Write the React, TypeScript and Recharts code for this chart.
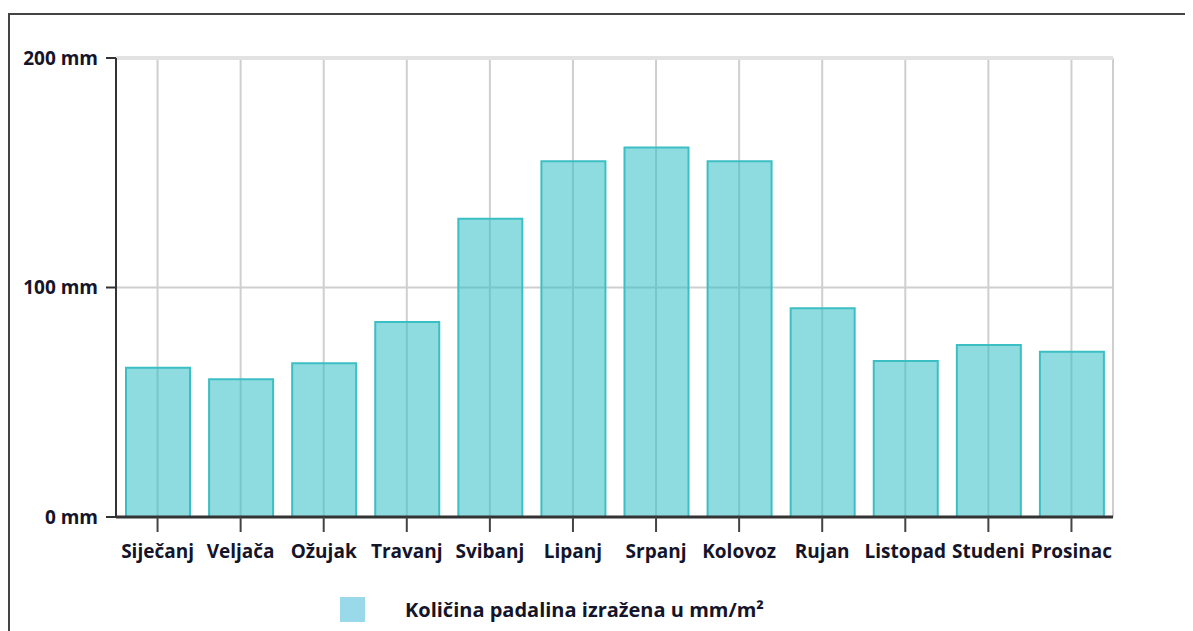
import React from 'react'
import {
  BarChart,
  Bar,
  XAxis,
  YAxis,
  CartesianGrid,
  Legend,
  ReferenceLine,
} from 'recharts'

const months = [
  'Siječanj',
  'Veljača',
  'Ožujak',
  'Travanj',
  'Svibanj',
  'Lipanj',
  'Srpanj',
  'Kolovoz',
  'Rujan',
  'Listopad',
  'Studeni',
  'Prosinac',
]
const rainfall = [65, 60, 67, 85, 130, 155, 161, 155, 91, 68, 75, 72]
const yTicks = [0, 100, 200]
const seriesName = 'Količina padalina izražena u mm/m²'

const data = months.map((m, i) => ({ month: m, rain: rainfall[i] }))

const FONT = '"Open Sans", "Noto Sans", sans-serif'
const TEXT = '#14142a'

function LegendContent() {
  return (
    <div
      style={{
        height: 40,
        display: 'flex',
        alignItems: 'center',
        fontFamily: FONT,
        fontWeight: 700,
        fontSize: 20,
        color: TEXT,
      }}
    >
      <div style={{ width: 330 }} />
      <div style={{ width: 25, height: 25, background: '#99d9ea' }} />
      <div style={{ width: 40 }} />
      <span>{seriesName}</span>
    </div>
  )
}

export default function App() {
  return (
    <div
      style={{
        marginTop: 5,
        width: 1183,
        height: 618,
        borderTop: '2px solid #444',
        borderLeft: '2px solid #444',
        background: '#fff',
      }}
    >
      <BarChart
        width={1183}
        height={616}
        data={data}
        margin={{ top: 43, right: 80, left: 0, bottom: 2 }}
        barSize={64}
      >
        <CartesianGrid
          stroke="#cfcfcf"
          strokeWidth={2}
          verticalCoordinatesGenerator={({ offset }: any) => {
            const step = offset.width / months.length
            const pts = months.map((_, i) => offset.left + step * (i + 0.5))
            return [...pts, offset.left + offset.width]
          }}
        />
        <ReferenceLine y={200} stroke="#e2e2e2" strokeWidth={4} />
        <XAxis
          dataKey="month"
          height={72}
          axisLine={{ stroke: '#333', strokeWidth: 3 }}
          tickLine={{ stroke: '#444', strokeWidth: 2 }}
          tickSize={15}
          tickMargin={13}
          interval={0}
          tick={{ fontSize: 19, fontWeight: 700, fill: TEXT, fontFamily: FONT }}
        />
        <YAxis
          width={106}
          domain={[0, 200]}
          ticks={yTicks}
          tickFormatter={(v: number) => `${v} mm`}
          axisLine={{ stroke: '#333', strokeWidth: 2 }}
          tickLine={{ stroke: '#333', strokeWidth: 2 }}
          tickSize={10}
          tickMargin={8}
          tick={{ fontSize: 19, fontWeight: 700, fill: TEXT, fontFamily: FONT }}
        />
        <Legend
          verticalAlign="bottom"
          align="left"
          height={40}
          content={<LegendContent />}
        />
        <Bar
          dataKey="rain"
          name={seriesName}
          fill="rgba(50,191,199,0.55)"
          stroke="#3cbfc4"
          strokeWidth={2}
          isAnimationActive={false}
        />
      </BarChart>
    </div>
  )
}
